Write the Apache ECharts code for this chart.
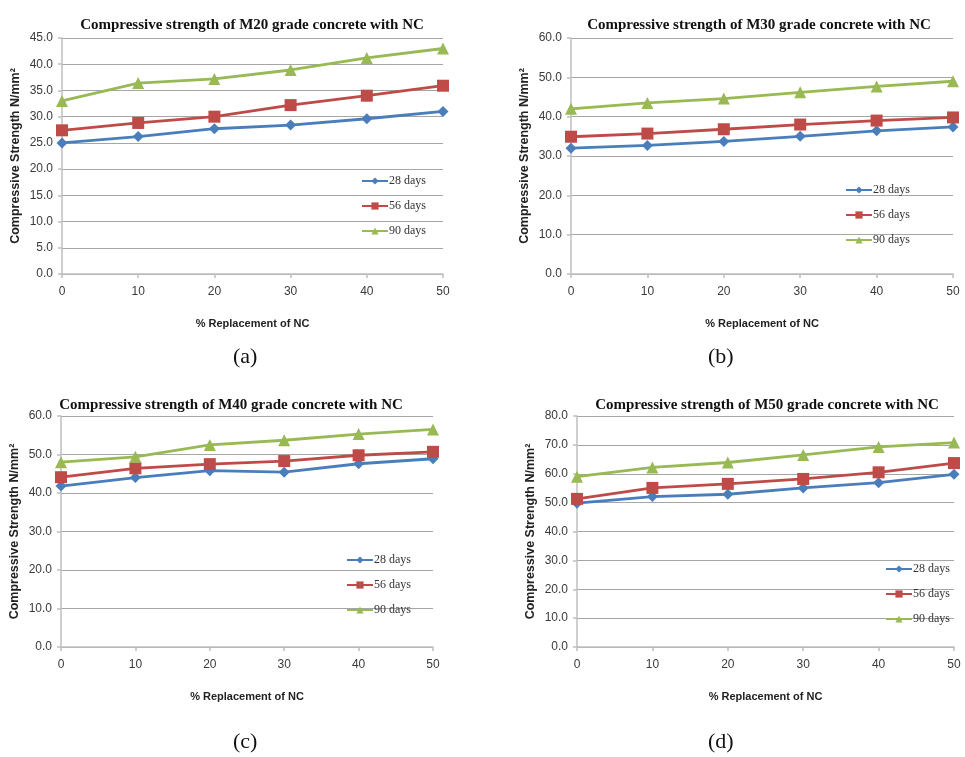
<!DOCTYPE html>
<html>
<head>
<meta charset="utf-8">
<script src="https://cdn.jsdelivr.net/npm/echarts@6/dist/echarts.min.js"></script>
<style>
  html, body { margin: 0; padding: 0; background: #fff; }
  #chart { width: 965px; height: 757px; }
</style>
</head>
<body>
<div id="chart"></div>
<script>
// % replacement of NC (x values shared by every panel)
const replacement = [0, 10, 20, 30, 40, 50];
const seriesNames = ['28 days', '56 days', '90 days'];

// M20 grade
const m20_28 = [25.0, 26.2, 27.7, 28.4, 29.6, 31.0];
const m20_56 = [27.4, 28.8, 30.0, 32.2, 34.0, 35.9];
const m20_90 = [33.0, 36.4, 37.2, 38.9, 41.2, 43.0];

// M30 grade
const m30_28 = [32.0, 32.7, 33.7, 35.0, 36.4, 37.4];
const m30_56 = [34.9, 35.7, 36.8, 38.0, 39.0, 39.8];
const m30_90 = [42.0, 43.5, 44.6, 46.2, 47.7, 49.0];

// M40 grade
const m40_28 = [41.8, 44.0, 45.8, 45.4, 47.6, 48.9];
const m40_56 = [44.1, 46.4, 47.5, 48.3, 49.8, 50.7];
const m40_90 = [48.0, 49.4, 52.5, 53.7, 55.3, 56.5];

// M50 grade
const m50_28 = [49.8, 52.1, 52.9, 55.1, 56.9, 59.8];
const m50_56 = [51.3, 55.1, 56.5, 58.2, 60.5, 63.7];
const m50_90 = [59.0, 62.2, 63.9, 66.5, 69.3, 70.8];

// y-axis ranges
const yMax = [45, 60, 60, 80];
const yStep = [5, 10, 10, 10];

const titles = [
  'Compressive strength of M20 grade concrete with NC',
  'Compressive strength of M30 grade concrete with NC',
  'Compressive strength of M40 grade concrete with NC',
  'Compressive strength of M50 grade concrete with NC'
];
const captions = ['(a)', '(b)', '(c)', '(d)'];
const panelData = [
  [m20_28, m20_56, m20_90],
  [m30_28, m30_56, m30_90],
  [m40_28, m40_56, m40_90],
  [m50_28, m50_56, m50_90]
];

// layout of each panel
const grids = [
  { left: 62, top: 38, width: 381, height: 236 },
  { left: 571, top: 38, width: 382, height: 236 },
  { left: 61, top: 416, width: 372, height: 231 },
  { left: 577, top: 416, width: 377, height: 231 }
];
const titlePos = [[247, 13], [754, 13], [226, 393], [762, 393]];
const legendPos = [[356, 170], [840, 179], [341, 549], [880, 558]];
const captionPos = [[245, 359], [720, 359], [245, 744], [720, 744]];

const colors = ['#4a7ebb', '#be4b48', '#98b954'];
const symbols = ['diamond', 'rect', 'triangle'];
const symbolSizes = [11, 12, 12];

const axisGray = '#bfbfbf';
const labelGray = '#3a3a3a';

const option = {
  animation: false,
  backgroundColor: '#ffffff',
  title: [],
  legend: [],
  grid: [],
  xAxis: [],
  yAxis: [],
  series: [],
  graphic: []
};

grids.forEach((g, i) => {
  option.grid.push(g);
  option.title.push({
    text: titles[i],
    left: titlePos[i][0],
    top: titlePos[i][1],
    textAlign: 'center',
    textStyle: {
      fontFamily: 'Liberation Serif',
      fontWeight: 'bold',
      fontSize: 15,
      color: '#111'
    }
  });
  option.legend.push({
    data: seriesNames,
    orient: 'vertical',
    left: legendPos[i][0],
    top: legendPos[i][1],
    itemWidth: 26,
    itemHeight: 9,
    itemGap: 13,
    textStyle: {
      fontFamily: 'Liberation Serif',
      fontSize: 12,
      color: '#333',
      padding: [0, 0, 0, -4]
    }
  });
  option.xAxis.push({
    type: 'value',
    gridIndex: i,
    min: 0,
    max: 50,
    interval: 10,
    name: '% Replacement of NC',
    nameLocation: 'middle',
    nameGap: 44,
    nameTextStyle: {
      fontFamily: 'Liberation Sans',
      fontWeight: 'bold',
      fontSize: 11,
      color: '#222'
    },
    axisLine: { show: true, lineStyle: { color: axisGray, width: 1.5 } },
    axisTick: { show: true, length: 4, lineStyle: { color: axisGray, width: 1.5 } },
    axisLabel: {
      margin: 12,
      fontFamily: 'Liberation Sans',
      fontSize: 12,
      color: labelGray
    },
    splitLine: { show: false }
  });
  option.yAxis.push({
    type: 'value',
    gridIndex: i,
    min: 0,
    max: yMax[i],
    interval: yStep[i],
    name: 'Compressive Strength N/mm\u00B2',
    nameLocation: 'middle',
    nameGap: 40,
    nameTextStyle: {
      fontFamily: 'Liberation Sans',
      fontWeight: 'bold',
      fontSize: 12.5,
      color: '#222'
    },
    axisLine: { show: true, lineStyle: { color: axisGray, width: 1.5 } },
    axisTick: { show: true, length: 4, lineStyle: { color: axisGray, width: 1.5 } },
    axisLabel: {
      margin: 9,
      fontFamily: 'Liberation Sans',
      fontSize: 12,
      color: labelGray,
      formatter: v => v.toFixed(1)
    },
    splitLine: { show: true, lineStyle: { color: '#a6a6a6', width: 1.2 } }
  });
  panelData[i].forEach((vals, s) => {
    option.series.push({
      name: seriesNames[s],
      type: 'line',
      xAxisIndex: i,
      yAxisIndex: i,
      data: replacement.map((x, k) => [x, vals[k]]),
      symbol: symbols[s],
      symbolSize: symbolSizes[s],
      showSymbol: true,
      color: colors[s],
      lineStyle: { color: colors[s], width: 2.8 },
      itemStyle: { color: colors[s] },
      z: 3 + s
    });
  });
  option.graphic.push({
    type: 'text',
    left: captionPos[i][0] - 12,
    top: captionPos[i][1] - 13,
    style: {
      text: captions[i],
      font: '22px "Liberation Serif"',
      fill: '#111'
    }
  });
});

const chart = echarts.init(document.getElementById('chart'), null, { renderer: 'canvas' });
chart.setOption(option);
</script>
</body>
</html>
